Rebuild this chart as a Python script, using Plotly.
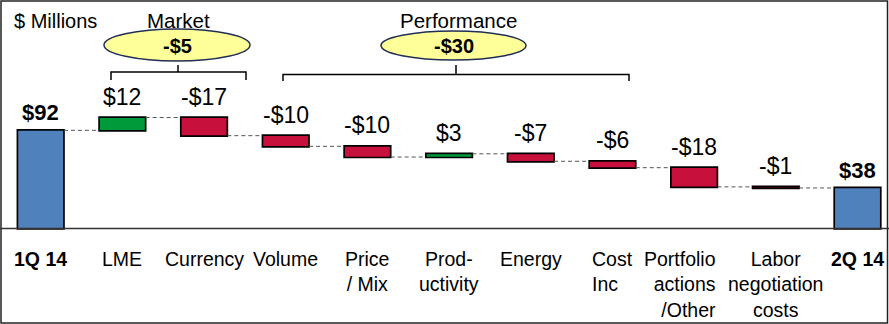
import plotly.graph_objects as go

# ---- data -------------------------------------------------------------
categories = ["1Q 14", "LME", "Currency", "Volume", "Price<br>/ Mix",
              "Prod-<br>uctivity", "Energy", "Cost<br>Inc",
              "Portfolio<br>actions<br>/Other", "Labor<br>negotiation<br>costs",
              "2Q 14"]
changes = [92, 12, -17, -10, -10, 3, -7, -6, -18, -1, 38]
measures = ["absolute"] + ["relative"] * 9 + ["total"]
market_idx = [1, 2]
performance_idx = [3, 4, 5, 6, 7]

# ---- styling ----------------------------------------------------------
W, H = 889, 324
FONT = "Liberation Sans, Arial, sans-serif"
BLUE, GREEN, RED = "#4F81BD", "#009A3A", "#C8103C"
BAR_W = 0.57


def money(v):
    return f"-${abs(v)}" if v < 0 else f"${v}"


def px(x):
    return x / W


def py(y):
    return 1 - y / H


# running totals -> top of each bar
tops = []
run = 0
for m, v in zip(measures, changes):
    if m == "absolute":
        run = v
        tops.append(v)
    elif m == "total":
        tops.append(run)
    else:
        tops.append(max(run, run + v))
        run += v

x = list(range(len(categories)))
outline = dict(color="black", width=1.7)

fig = go.Figure(go.Waterfall(
    x=x, y=changes, measure=measures, width=BAR_W,
    increasing=dict(marker=dict(color=GREEN, line=outline)),
    decreasing=dict(marker=dict(color=RED, line=outline)),
    totals=dict(marker=dict(color=BLUE, line=outline)),
    connector=dict(mode="between", line=dict(color="#555555", width=1, dash="4px,3px")),
    textinfo="none", hoverinfo="skip",
))

ann = []
# value labels above bars
for i, (m, v) in enumerate(zip(measures, changes)):
    val = tops[i] if m == "total" else v
    bold = m != "relative"
    ann.append(dict(x=i, y=tops[i], xref="x", yref="y", yanchor="bottom",
                    yshift=3 if bold else 6, showarrow=False,
                    text=f"<b>{money(val)}</b>" if bold else money(val),
                    font=dict(family=FONT, size=23 if not bold else 22, color="black")))

# category labels under the axis
align = {7: ("left", 0), 8: ("right", -14)}
for i, c in enumerate(categories):
    a, dx = align.get(i, ("center", 0))
    bold = measures[i] != "relative"
    ann.append(dict(x=i, y=py(246), xref="x", yref="paper", yanchor="top",
                    xanchor="center", align=a, xshift=dx, showarrow=False,
                    text=f"<b>{c}</b>" if bold else c,
                    font=dict(family=FONT, size=19.5, color="black")))

# unit note and group headings
ann.append(dict(x=px(12), y=py(21), xref="paper", yref="paper", xanchor="left",
                yanchor="middle", showarrow=False, text="$ Millions",
                font=dict(family=FONT, size=20, color="black")))

groups = [
    ("Market", market_idx, 178, (104, 250, 29, 61), (111, 246, 72, 80, 65, 178)),
    ("Performance", performance_idx, 459, (381, 526, 31, 60), (283, 629, 74.5, 81, 65, 456)),
]
shapes = []
for name, idx, tx, (ex0, ex1, ey0, ey1), (bx0, bx1, by, bend, btop, bmid) in groups:
    total = sum(changes[i] for i in idx)
    ann.append(dict(x=px(tx), y=py(20), xref="paper", yref="paper",
                    xanchor="center", yanchor="middle", showarrow=False, text=name,
                    font=dict(family=FONT, size=20.5, color="black")))
    shapes.append(dict(type="circle", xref="paper", yref="paper",
                       x0=px(ex0), x1=px(ex1), y0=py(ey1), y1=py(ey0),
                       fillcolor="#FFFF99", line=dict(color="#1F2F55", width=1.5),
                       layer="below"))
    ann.append(dict(x=px((ex0 + ex1) / 2), y=py((ey0 + ey1) / 2 + 1), xref="paper",
                    yref="paper", xanchor="center", yanchor="middle",
                    showarrow=False, text=f"<b>{money(total)}</b>",
                    font=dict(family=FONT, size=20, color="black")))
    path = (f"M {px(bx0)} {py(bend)} L {px(bx0)} {py(by)} L {px(bx1)} {py(by)} "
            f"L {px(bx1)} {py(bend)} M {px(bmid)} {py(by)} L {px(bmid)} {py(btop)}")
    shapes.append(dict(type="path", xref="paper", yref="paper", path=path,
                       line=dict(color="black", width=1.5)))

# frame and baseline
shapes.append(dict(type="rect", xref="paper", yref="paper",
                   x0=px(1), x1=px(887.5), y0=py(323), y1=py(1),
                   line=dict(color="#222222", width=1.5)))
shapes.append(dict(type="line", xref="paper", yref="y", x0=0, x1=1, y0=0, y1=0,
                   line=dict(color="#333333", width=1.5)))

x_step = 81.68
fig.update_layout(
    width=W, height=H, margin=dict(l=0, r=0, t=0, b=0),
    paper_bgcolor="white", plot_bgcolor="white", showlegend=False,
    xaxis=dict(range=[-40.7 / x_step, 10 + (W - 857.5) / x_step], visible=False),
    yaxis=dict(range=[-(H - 228.5) / 1.067, 228.5 / 1.067], visible=False),
    annotations=ann, shapes=shapes,
)

fig.write_html("out.html")
